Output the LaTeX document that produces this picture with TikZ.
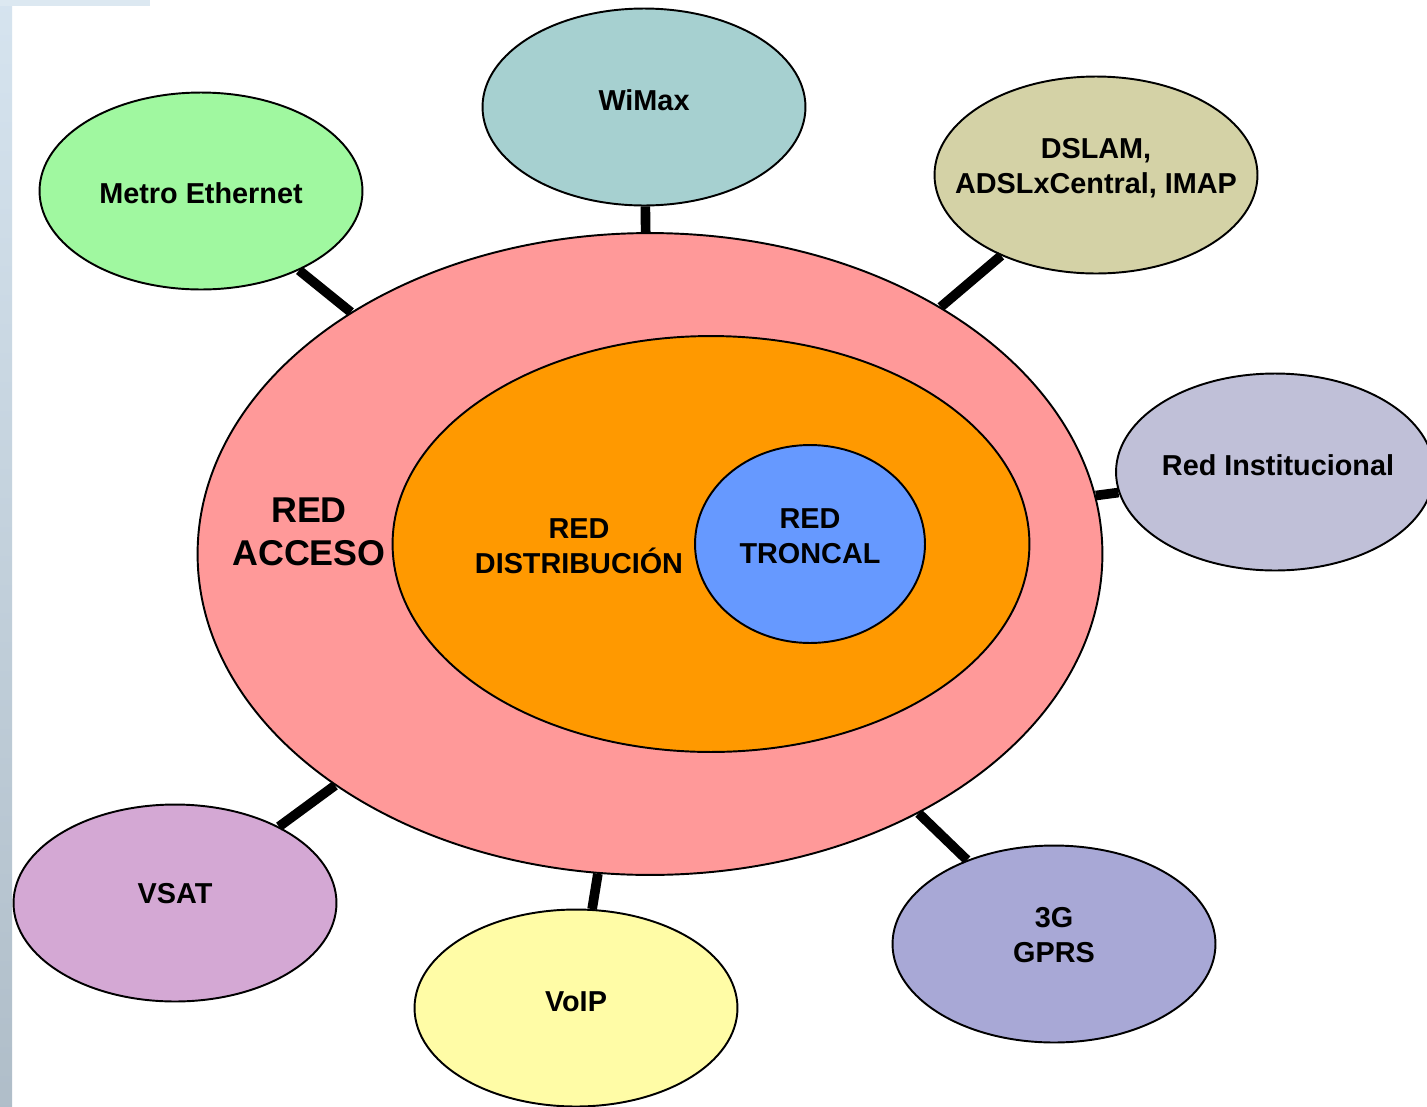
\documentclass[tikz,border=0pt]{standalone}
\usepackage{fontspec}
\setmainfont{Liberation Sans}
\usetikzlibrary{shapes.geometric}

\definecolor{acceso}{RGB}{255,153,153}
\definecolor{distrib}{RGB}{255,153,0}
\definecolor{troncal}{RGB}{102,153,255}
\definecolor{metro}{RGB}{160,248,160}
\definecolor{wimax}{RGB}{166,208,208}
\definecolor{dslam}{RGB}{212,210,166}
\definecolor{redinst}{RGB}{192,192,216}
\definecolor{vsat}{RGB}{212,168,212}
\definecolor{voip}{RGB}{255,252,166}
\definecolor{gprs}{RGB}{168,168,214}
\definecolor{photo}{RGB}{196,216,232}

\begin{document}
\begin{tikzpicture}[x=0.02cm, y=-0.02cm,
	ring/.style={ellipse, draw, line width=1.1pt, inner sep=0pt},
	sat/.style={ellipse, draw, line width=1.1pt, inner sep=0pt, minimum width=6.46cm, minimum height=3.94cm},
	lbl/.style={font=\fontsize{16.4}{19.7}\selectfont\bfseries, align=center, inner sep=0pt},
	link/.style={line width=5.5pt}]
	\useasboundingbox (0,0) rectangle (1427,1106);
	\fill[white] (0,0) rectangle (1427,1106);
	\shade[top color=photo!70, bottom color=photo!70!gray] (0,0) rectangle (12,1106);
	\fill[photo!60] (0,0) rectangle (150,6);
	%
	\node[ring, fill=acceso, minimum width=18.1cm, minimum height=12.84cm] (acceso) at (650,554) {};
	\node[ring, fill=distrib, minimum width=12.74cm, minimum height=8.32cm] (distrib) at (711,544) {};
	\node[ring, fill=troncal, minimum width=4.6cm, minimum height=3.96cm] (troncal) at (810,544) {};
	\node[lbl, font=\fontsize{20.4}{24.4}\selectfont\bfseries] (acceso-t) at (309,532) {RED\\ACCESO};
	\node[lbl] (distrib-t) at (579,546) {RED\\DISTRIBUCIÓN};
	\node[lbl] (troncal-t) at ([yshift=0.16cm]troncal) {RED\\TRONCAL};
	%
	\node[sat, fill=metro] (metro) at (201,191) {};
	\node[sat, fill=wimax] (wimax) at (644,107) {};
	\node[sat, fill=dslam] (dslam) at (1096,175) {};
	\node[sat, fill=redinst, minimum width=6.36cm] (redinst) at (1275,472) {};
	\node[sat, fill=vsat] (vsat) at (175,903) {};
	\node[sat, fill=voip] (voip) at (576,1008) {};
	\node[sat, fill=gprs] (gprs) at (1054,944) {};
	\node[lbl] (metro-t) at ([yshift=-0.04cm]metro) {Metro Ethernet};
	\node[lbl] (wimax-t) at ([yshift=0.14cm]wimax) {WiMax};
	\node[lbl] (dslam-t) at ([yshift=0.14cm]dslam) {DSLAM,\\ADSLxCentral, IMAP};
	\node[lbl] (redinst-t) at ([xshift=0.06cm, yshift=0.14cm]redinst) {Red Institucional};
	\node[lbl] (vsat-t) at ([yshift=0.18cm]vsat) {VSAT};
	\node[lbl] (voip-t) at ([yshift=0.12cm]voip) {VoIP};
	\node[lbl] (gprs-t) at ([yshift=0.18cm]gprs) {3G\\GPRS};
	%
	\foreach \s in {metro,wimax,dslam,redinst,vsat,voip,gprs}
		\draw[link] (\s) -- (acceso);
\end{tikzpicture}
\end{document}
